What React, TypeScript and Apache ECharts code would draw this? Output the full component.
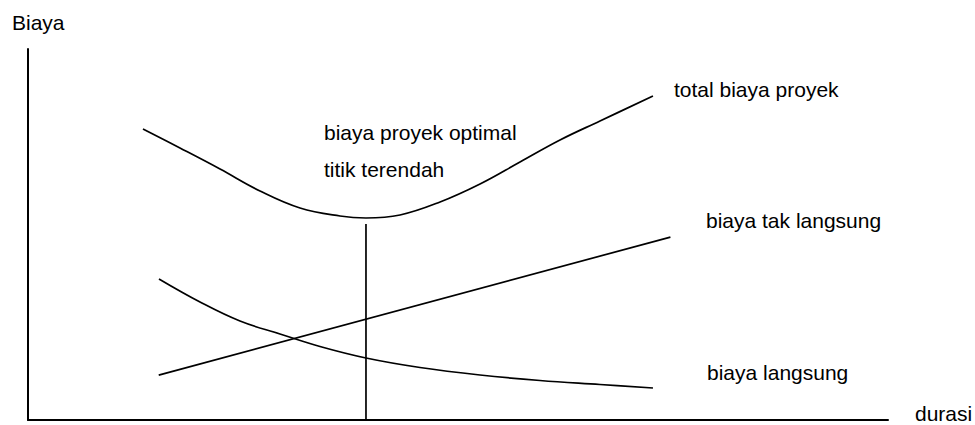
import React, { useEffect, useRef } from "react";
import * as echarts from "echarts";

// Data (durasi 0-100, biaya 0-100)
const totalX = [13.37, 17.67, 22.33, 26.98, 31.63, 36.28, 39.3, 43.26, 47.91, 52.56, 57.21, 61.86, 66.51, 72.67];
const totalY = [78.44, 73.32, 67.65, 61.73, 57.14, 54.99, 54.45, 55.26, 58.76, 63.61, 69.54, 75.47, 80.59, 87.33];

const indirectX = [15.2, 74.7];
const indirectY = [12.1, 49.3];

const directX = [15.23, 20.0, 24.65, 29.3, 33.95, 39.3, 45.58, 52.56, 59.53, 66.51, 72.67];
const directY = [38.01, 31.81, 26.68, 23.18, 19.81, 16.71, 14.15, 12.13, 10.65, 9.57, 8.63];

const optimumX = [39.3, 39.3];
const optimumY = [0, 52.8];

const yAxisTitle = "Biaya";
const xAxisTitle = "durasi";
const labels = [
  "biaya proyek optimal",
  "titik terendah",
  "total biaya proyek",
  "biaya tak langsung",
  "biaya langsung",
];

const zip = (xs: number[], ys: number[]) => xs.map((x, i) => [x, ys[i]]);

export default function App() {
  const ref = useRef<HTMLDivElement>(null);
  useEffect(() => {
    document.body.style.margin = "0";
    if (!ref.current) return;
    const chart = echarts.init(ref.current, undefined, { renderer: "svg" });
    const font = "'Liberation Sans', Arial, Helvetica, sans-serif";
    const fs = 21;
    const txt = (text: string, x: number, y: number) => ({
      type: "text",
      x,
      y,
      style: {
        text,
        fill: "#000",
        font: `${fs}px ${font}`,
        fontSize: fs,
        fontFamily: font,
        align: "left",
        verticalAlign: "middle",
      },
    });
    const lineStyle = { color: "#000", width: 1.7 };
    chart.setOption({
      animation: false,
      backgroundColor: "#fff",
      grid: { left: 28, right: 87, top: 49, bottom: 5, containLabel: false },
      xAxis: {
        type: "value",
        min: 0,
        max: 100,
        axisLine: { show: true, onZero: false, lineStyle: { color: "#000", width: 2 } },
        axisTick: { show: false },
        axisLabel: { show: false },
        splitLine: { show: false },
      },
      yAxis: {
        type: "value",
        min: 0,
        max: 100,
        axisLine: { show: true, onZero: false, lineStyle: { color: "#000", width: 2 } },
        axisTick: { show: false },
        axisLabel: { show: false },
        splitLine: { show: false },
      },
      series: [
        {
          name: "total biaya proyek",
          type: "line",
          data: zip(totalX, totalY),
          smooth: 0.4,
          symbol: "none",
          lineStyle,
        },
        {
          name: "biaya tak langsung",
          type: "line",
          data: zip(indirectX, indirectY),
          symbol: "none",
          lineStyle,
        },
        {
          name: "biaya langsung",
          type: "line",
          data: zip(directX, directY),
          smooth: 0.4,
          symbol: "none",
          lineStyle,
        },
        {
          name: "optimal",
          type: "line",
          data: zip(optimumX, optimumY),
          symbol: "none",
          lineStyle,
        },
      ],
      graphic: [
        txt(yAxisTitle, 12, 22),
        txt(labels[0], 324, 132),
        txt(labels[1], 324, 169),
        txt(labels[2], 674, 89),
        txt(labels[3], 706, 220),
        txt(labels[4], 707, 372),
        txt(xAxisTitle, 915, 413),
      ],
    });
    return () => chart.dispose();
  }, []);
  return <div ref={ref} style={{ width: 975, height: 425 }} />;
}
